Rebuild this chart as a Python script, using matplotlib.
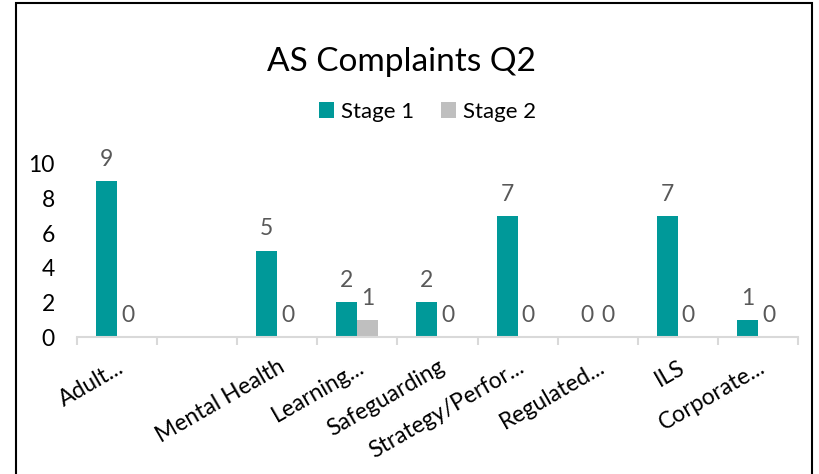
import numpy as np
import matplotlib.pyplot as plt
from matplotlib.patches import Rectangle

categories = ["Adult...", "", "Mental Health", "Learning...", "Safeguarding",
              "Strategy/Perfor...", "Regulated...", "ILS", "Corporate..."]
stage1 = [9, np.nan, 5, 2, 2, 7, 0, 7, 1]
stage2 = [0, np.nan, 0, 1, 0, 0, 0, 0, 0]

teal = "#009999"
grey = "#BFBFBF"
label_col = "#595959"

plt.rcParams['font.family'] = ['Lato', 'DejaVu Sans']

fig = plt.figure(figsize=(8.2, 4.74), dpi=100)
ax = fig.add_axes([77 / 820, 1 - 337 / 474, (798 - 77) / 820, (337 - 164) / 474])

x = np.arange(len(categories))
w = 0.2625
b1 = ax.bar(x - w / 2, stage1, w, color=teal, label="Stage 1")
b2 = ax.bar(x + w / 2, stage2, w, color=grey, label="Stage 2")

for bars, vals in [(b1, stage1), (b2, stage2)]:
    for rect, v in zip(bars, vals):
        if np.isnan(v):
            continue
        ax.annotate(f"{int(v)}", (rect.get_x() + rect.get_width() / 2, v),
                    xytext=(0, 8), textcoords="offset points",
                    ha="center", va="bottom", fontsize=16.5, color=label_col)

ax.set_xlim(-0.5, len(categories) - 0.5)
ax.set_ylim(0, 10)
ax.set_yticks([0, 2, 4, 6, 8, 10])
ax.tick_params(axis='y', length=0, labelsize=16.5, pad=16)

ax.set_xticks(x)
ax.set_xticklabels(categories, rotation=30, ha='right', rotation_mode='anchor', fontsize=16.5)
ax.tick_params(axis='x', length=0, pad=14)
ax.set_xticks(np.arange(len(categories) + 1) - 0.5, minor=True)
ax.tick_params(axis='x', which='minor', length=6, color='#D9D9D9', width=1.5)

for s in ['top', 'right', 'left']:
    ax.spines[s].set_visible(False)
ax.spines['bottom'].set_color('#D9D9D9')
ax.spines['bottom'].set_linewidth(1.5)

fig.text(402 / 820, 1 - 62 / 474, "AS Complaints Q2", ha='center', va='center', fontsize=24)
fig.legend(loc='center', bbox_to_anchor=(0.521, 1 - 112 / 474), ncol=2, frameon=False,
           fontsize=16, handlelength=0.7, handleheight=0.7, handletextpad=0.3,
           columnspacing=1.2)

fig.patches.append(Rectangle((16 / 820, -0.1), (812 - 16) / 820, 1.1 - 3 / 474,
                             transform=fig.transFigure, fill=False,
                             edgecolor='black', linewidth=1.5))

fig.savefig("out.png", dpi=100)
